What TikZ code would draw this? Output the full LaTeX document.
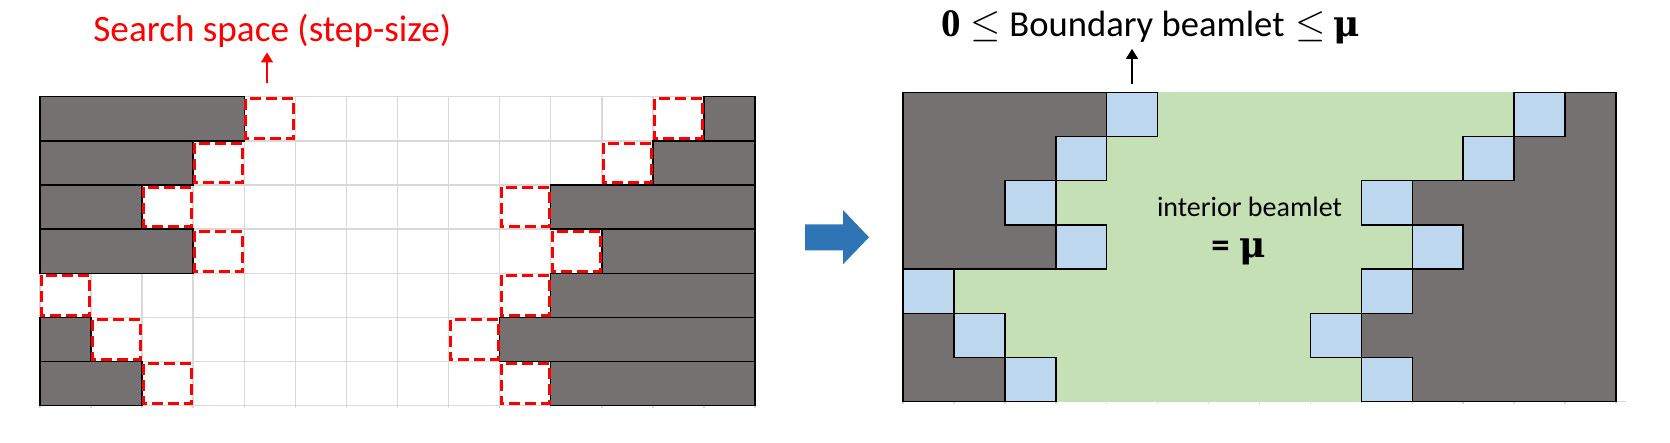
\documentclass[tikz,border=0pt]{standalone}
\usepackage{fix-cm}
\usepackage{amsmath}
\usepackage{fontspec}
\setmainfont{Carlito}
\newfontfamily\lserif{Liberation Serif}
\newfontfamily\dserif{DejaVu Serif}
\usetikzlibrary{arrows.meta}
\definecolor{bargray}{HTML}{767171}
\definecolor{bluecell}{HTML}{BDD7EE}
\definecolor{greencell}{HTML}{C5E0B4}
\definecolor{gridgray}{HTML}{D9D9D9}
\definecolor{arrowblue}{HTML}{2E75B6}
\newcommand{\bigmath}[1]{{\fontsize{19.5}{21}\selectfont #1}}
\newcommand{\mubold}{{\fontsize{18}{20}\selectfont\dserif\bfseries μ}}
\begin{document}
\begin{tikzpicture}[x=0.5pt,y=-0.5pt,
  gridline/.style={draw=gridgray,line width=0.75pt},
  barbox/.style={draw=black,fill=bargray,line width=0.75pt},
  searchbox/.style={draw=red,line width=1.5pt,dash pattern=on 5.5pt off 2.5pt},
  bluebox/.style={draw=black,fill=bluecell,line width=0.75pt},
  outline/.style={draw=black,fill=bargray,line width=0.75pt},
  redarrow/.style={draw=red,line width=0.6pt,-{Triangle[width=6pt,length=5pt]}},
  blackarrow/.style={draw=black,line width=0.6pt,-{Triangle[width=6pt,length=5pt]}},
  headtxt/.style={font=\fontsize{18.3}{21}\selectfont,inner sep=0pt},
  searchtxt/.style={font=\fontsize{18.6}{21}\selectfont,inner sep=0pt},
  midtxt/.style={font=\fontsize{14}{16}\selectfont,inner sep=0pt}]
\useasboundingbox (0,0) rectangle (1670,443);

% ---------- left grid ----------
\begin{scope}[shift={(40,96.7)},x=25.536pt,y=-22.07pt]
  \foreach \i in {0,...,14} \draw[gridline] (\i,0) -- (\i,7.06);
  \foreach \j in {0,...,7} \draw[gridline] (0,\j) -- (14,\j);
  \foreach \r/\L/\a/\b/\R in {0/4/4/12/13,1/3/3/11/12,2/2/2/9/10,3/3/3/10/11,4/0/0/9/10,5/1/1/8/9,6/2/2/9/10}{
    \ifnum\L>0 \draw[barbox] (0,\r) rectangle (\L,\r+1); \fi
    \draw[barbox] (\R,\r) rectangle (14,\r+1);
  }
  \foreach \r/\a/\b in {0/4/12,1/3/11,2/2/9,3/3/10,4/0/9,5/1/8,6/2/9}{
    \draw[searchbox] (\a+0.03,\r+0.05) rectangle (\a+0.97,\r+0.95);
    \draw[searchbox] (\b+0.03,\r+0.05) rectangle (\b+0.97,\r+0.95);
  }
\end{scope}

% ---------- blue arrow ----------
\fill[arrowblue] (805,224.3) -- (843,224.3) -- (843,210) -- (869,237.3)
  -- (843,264.3) -- (843,250.5) -- (805,250.5) -- cycle;

% ---------- right grid ----------
\begin{scope}[shift={(903,92.3)},x=25.464pt,y=-22.1pt]
  \foreach \i in {0,...,14} \draw[gridline] (\i,6.9) -- (\i,7.06);
  \draw[gridline] (0,7) -- (14.2,7);
  \fill[greencell] (0,0) rectangle (14,7);
  \draw[outline] (0,0) -- (4,0) -- (4,1) -- (3,1) -- (3,2) -- (2,2) -- (2,3)
     -- (3,3) -- (3,4) -- (0,4) -- cycle;
  \draw[outline] (0,5) -- (1,5) -- (1,6) -- (2,6) -- (2,7) -- (0,7) -- cycle;
  \draw[outline] (13,0) -- (14,0) -- (14,7) -- (10,7) -- (10,6) -- (9,6) -- (9,5)
     -- (10,5) -- (10,4) -- (11,4) -- (11,3) -- (10,3) -- (10,2) -- (12,2)
     -- (12,1) -- (13,1) -- cycle;
  \foreach \r/\a/\b in {0/4/12,1/3/11,2/2/9,3/3/10,4/0/9,5/1/8,6/2/9}{
    \draw[bluebox] (\a,\r) rectangle (\a+1,\r+1);
    \draw[bluebox] (\b,\r) rectangle (\b+1,\r+1);
  }
\end{scope}

% ---------- labels ----------
\node[searchtxt,text=red,anchor=base west] (search) at (93,42) {Search space (step-size)};
\coordinate (sstail) at (267,83);
\draw[redarrow] (sstail) -- ([yshift=-2pt]sstail |- search.south);

\node[headtxt,anchor=base west] (bound) at (941,37)
  {\bigmath{\lserif\bfseries 0}\hspace{4.75pt}\bigmath{$\leq$}\hspace{4.35pt}Boundary beamlet\hspace{5.6pt}\bigmath{$\leq$}\hspace{3.7pt}\mubold};
\coordinate (bdtail) at (1132,84);
\draw[blackarrow] (bdtail) -- ([yshift=-2pt]bdtail |- bound.south);

\node[midtxt,anchor=base] (interior) at (1249.5,217) {interior beamlet};
\node[headtxt,anchor=base west] (mueq) at (1211,257) {\bfseries =\hspace{5pt}\mubold};
\end{tikzpicture}
\end{document}
